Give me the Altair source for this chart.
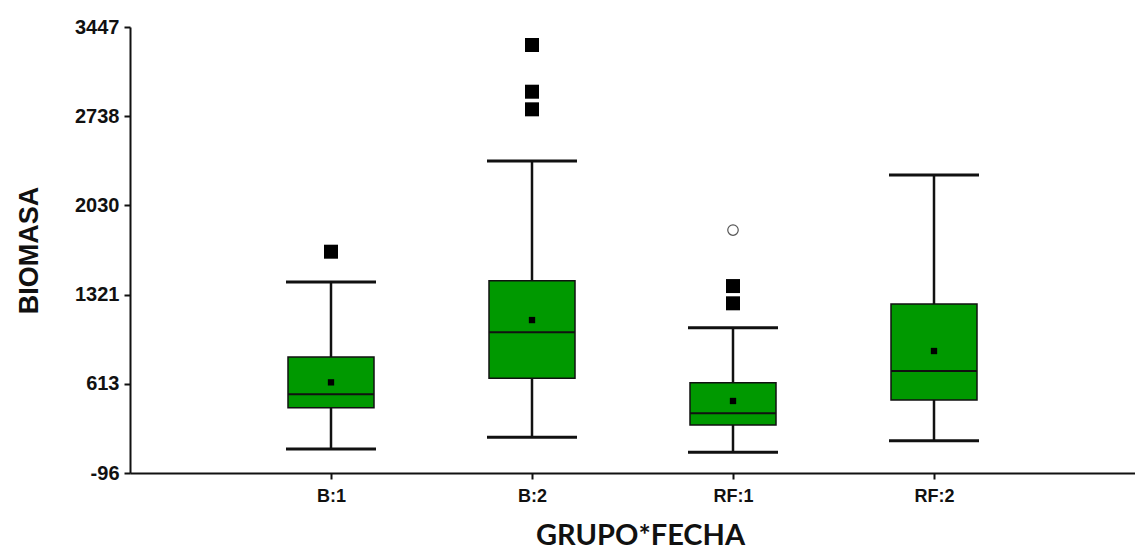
import altair as alt
import pandas as pd

groups = ["B:1", "B:2", "RF:1", "RF:2"]
whisker_low = [95, 188, 68, 160]
q1 = [423, 656, 285, 484]
median = [529, 1022, 378, 714]
q3 = [825, 1432, 621, 1246]
whisker_high = [1421, 2382, 1058, 2271]
mean = [624, 1119, 476, 873]

outlier_group = ["B:1", "B:2", "B:2", "B:2", "RF:1", "RF:1"]
outlier_value = [1662, 3304, 2933, 2793, 1389, 1252]

far_group = ["RF:1"]
far_value = [1834]

y_ticks = [-96, 613, 1321, 2030, 2738, 3447]

stats = pd.DataFrame({
    "g": groups, "lo": whisker_low, "q1": q1, "med": median,
    "q3": q3, "hi": whisker_high, "mean": mean,
})
outs = pd.DataFrame({"g": outlier_group, "v": outlier_value})
fars = pd.DataFrame({"g": far_group, "v": far_value})

LABEL_FONT = "Liberation Sans, Arial, sans-serif"

x_enc = alt.X(
    "g:N",
    sort=groups,
    scale=alt.Scale(type="point", domain=groups, padding=1),
    axis=alt.Axis(
        title="GRUPO*FECHA", titleFont="Lato, Liberation Sans, sans-serif",
        titleFontSize=29, titleFontWeight="bold", titleColor="#111111",
        titleX=510, titleY=62, titleBaseline="middle", titleAnchor="start", titleAlign="center",
        labelFont=LABEL_FONT, labelFontSize=18, labelFontWeight="bold", labelColor="#111111",
        labelAngle=0, labelPadding=8, tickSize=6, tickWidth=2, tickColor="#111111",
        domainColor="#111111", domainWidth=2, grid=False,
    ),
)

y_scale = alt.Scale(domain=[-96, 3447], nice=False, zero=False)
y_axis = alt.Axis(
    title="BIOMASA", titleFont=LABEL_FONT, titleFontSize=27, titleFontWeight="bold",
    titleColor="#111111", titleX=-101, titleY=223, titleBaseline="middle", titleAngle=-90,
    titleAlign="center",
    values=y_ticks, labelFont=LABEL_FONT, labelFontSize=20, labelFontWeight="bold",
    labelColor="#111111", labelPadding=5, tickSize=6, tickWidth=2, tickColor="#111111",
    domainColor="#111111", domainWidth=2, grid=False,
    labelExpr="datum.value < 0 ? '-' + format(-datum.value, 'd') : format(datum.value, 'd')",
)

base = alt.Chart(stats)

whisk = base.mark_rule(color="#111111", strokeWidth=2.5, opacity=1).encode(
    x=x_enc, y=alt.Y("lo:Q", scale=y_scale, axis=y_axis), y2="hi:Q"
)
box = base.mark_bar(width=86, color="#009900", stroke="#111111", strokeWidth=1.5,
                    opacity=1).encode(
    x=x_enc, y=alt.Y("q1:Q", scale=y_scale), y2="q3:Q"
)
med = base.mark_tick(size=86, thickness=2, color="#111111", opacity=1).encode(
    x=x_enc, y=alt.Y("med:Q", scale=y_scale)
)
cap_lo = base.mark_tick(size=90, thickness=3, color="#111111", opacity=1).encode(
    x=x_enc, y=alt.Y("lo:Q", scale=y_scale)
)
cap_hi = base.mark_tick(size=90, thickness=3, color="#111111", opacity=1).encode(
    x=x_enc, y=alt.Y("hi:Q", scale=y_scale)
)
mn = base.mark_square(size=40, color="#000000", opacity=1).encode(
    x=x_enc, y=alt.Y("mean:Q", scale=y_scale)
)
out = alt.Chart(outs).mark_square(size=196, color="#000000", opacity=1).encode(
    x=x_enc, y=alt.Y("v:Q", scale=y_scale)
)
far = alt.Chart(fars).mark_point(shape="circle", size=110, filled=False, color="#555555",
                                 strokeWidth=1.2, opacity=1).encode(
    x=x_enc, y=alt.Y("v:Q", scale=y_scale)
)

chart = alt.layer(whisk, box, med, cap_lo, cap_hi, mn, out, far).properties(
    width=1005, height=446,
    autosize=alt.AutoSizeParams(type="none"),
    padding={"left": 122, "top": 19, "right": 0, "bottom": 78},
).configure(background="white").configure_view(stroke=None)

chart.save("out.html", embed_options={"renderer": "svg", "actions": False})
